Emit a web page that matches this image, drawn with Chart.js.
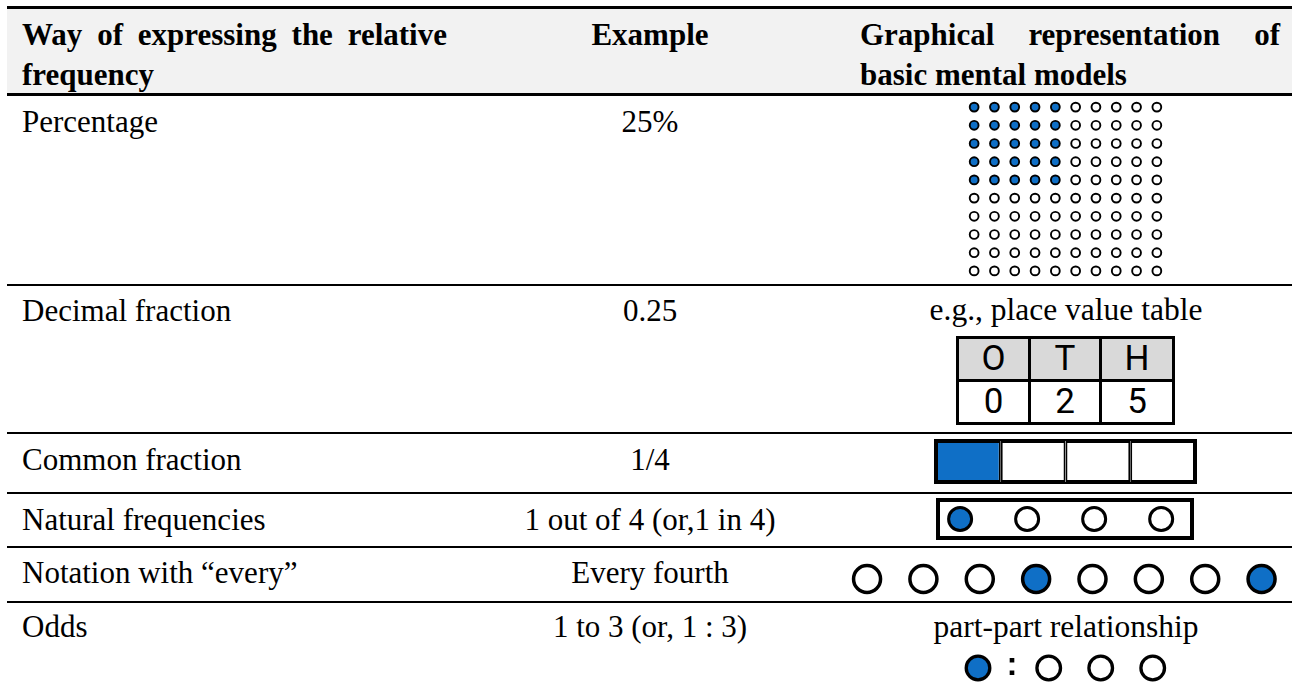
<!DOCTYPE html>
<html>
<head>
<meta charset="utf-8">
<script src="https://cdn.jsdelivr.net/npm/chart.js@4.4.0/dist/chart.umd.min.js"></script>
<style>
  html, body { margin:0; padding:0; background:#fff; width:1292px; height:686px; overflow:hidden; }
  body { position:relative; font-family:"Liberation Serif","Times New Roman",serif; color:#000; }
  .abs { position:absolute; }
  .line { position:absolute; left:7px; width:1285px; background:#000; }
  .hdr { position:absolute; font-weight:bold; font-size:31px; line-height:36px; white-space:nowrap; }
  .just { text-align:justify; text-align-last:justify; white-space:normal; }
  .txt { position:absolute; font-size:31px; line-height:36px; white-space:nowrap; }
  .cap { position:absolute; font-size:31.5px; line-height:36px; white-space:nowrap; left:840px; width:452px; text-align:center; }
  .c2 { left:460px; width:380px; text-align:center; }
  canvas { position:absolute; display:block; }
  table.pv { position:absolute; border-collapse:collapse; font-family:"Liberation Sans Narrow",Roboto,"Liberation Sans",sans-serif; font-size:35px; }
  table.pv td { border:3px solid #000; text-align:center; padding:0; height:40px; line-height:40px; }
</style>
</head>
<body>
<div class="abs" style="left:7px;top:9px;width:1285px;height:84px;background:#f2f2f2;"></div>
<div class="line" style="top:6px;height:3px;"></div>
<div class="line" style="top:93px;height:3px;"></div>
<div class="line" style="top:284px;height:2px;"></div>
<div class="line" style="top:432px;height:2px;"></div>
<div class="line" style="top:492px;height:2px;"></div>
<div class="line" style="top:546px;height:2px;"></div>
<div class="line" style="top:601px;height:2px;"></div>

<div id="h1a" class="hdr just" style="left:22px;top:17px;width:425px;"></div>
<div id="h1b" class="hdr" style="left:22px;top:57px;"></div>
<div id="h2" class="hdr" style="left:460px;top:17px;width:380px;text-align:center;"></div>
<div id="h3a" class="hdr just" style="left:860px;top:17px;width:420px;"></div>
<div id="h3b" class="hdr" style="left:860px;top:57px;"></div>

<div id="rows"></div>

<canvas id="cGrid" width="203" height="182" style="left:964px;top:98px;"></canvas>
<table class="pv" id="pv" style="left:956px;top:336px;"></table>
<canvas id="cFrac" width="259" height="41" style="left:936px;top:441px;outline:2px solid #000;"></canvas>
<div class="abs" style="left:936px;top:498px;width:250px;height:34px;border:4px solid #000;"></div>
<canvas id="cNat" width="250" height="34" style="left:940px;top:502px;"></canvas>
<canvas id="cEvery" width="452" height="40" style="left:840px;top:559px;"></canvas>
<canvas id="cOdds" width="250" height="38" style="left:940px;top:649px;"></canvas>
<div id="colon" class="abs" style="left:992px;top:646px;width:40px;text-align:center;font-family:'Liberation Sans',Arial,sans-serif;font-weight:bold;font-size:33px;line-height:36px;"></div>

<script>
// ---------- data ----------
const headerCol1 = ['Way of expressing the relative', 'frequency'];
const headerCol2 = 'Example';
const headerCol3 = ['Graphical representation of', 'basic mental models'];
const rowLabels = ['Percentage', 'Decimal fraction', 'Common fraction', 'Natural frequencies', 'Notation with \u201cevery\u201d', 'Odds'];
const examples = ['25%', '0.25', '1/4', '1 out of 4 (or,1 in 4)', 'Every fourth', '1 to 3 (or, 1 : 3)'];
const captions = ['', 'e.g., place value table', '', '', '', 'part-part relationship'];
const percentGrid = [
  '1111100000',
  '1111100000',
  '1111100000',
  '1111100000',
  '1111100000',
  '0000000000',
  '0000000000',
  '0000000000',
  '0000000000',
  '0000000000'
];
const placeHeads = ['O', 'T', 'H'];
const placeDigits = ['0', '2', '5'];
const fractionCells = [1, 0, 0, 0];
const naturalDots = [1, 0, 0, 0];
const everyDots = [0, 0, 0, 1, 0, 0, 0, 1];
const oddsPart = [1];
const oddsRest = [0, 0, 0];
const oddsSeparator = ':';

// ---------- layout (not data) ----------
const BLUE = '#0f6fc6';
const rowTops = [104, 293, 442, 502, 555, 609];
const capTops = [0, 292, 0, 0, 0, 609];

document.getElementById('h1a').textContent = headerCol1[0];
document.getElementById('h1b').textContent = headerCol1[1];
document.getElementById('h2').textContent = headerCol2;
document.getElementById('h3a').textContent = headerCol3[0];
document.getElementById('h3b').textContent = headerCol3[1];
const rowsEl = document.getElementById('rows');
rowLabels.forEach((lab, i) => {
  const a = document.createElement('div');
  a.className = 'txt'; a.style.left = '22px'; a.style.top = rowTops[i] + 'px'; a.textContent = lab;
  rowsEl.appendChild(a);
  const b = document.createElement('div');
  b.className = 'txt c2'; b.style.top = rowTops[i] + 'px'; b.textContent = examples[i];
  rowsEl.appendChild(b);
  if (captions[i]) {
    const c = document.createElement('div');
    c.className = 'cap'; c.style.top = capTops[i] + 'px'; c.textContent = captions[i];
    rowsEl.appendChild(c);
  }
});
const pv = document.getElementById('pv');
const colW = [69, 68, 70];
[placeHeads, placeDigits].forEach((row, r) => {
  const tr = document.createElement('tr');
  row.forEach((t, k) => {
    const td = document.createElement('td');
    td.textContent = t; td.style.width = colW[k] + 'px';
    td.style.background = r === 0 ? '#d9d9d9' : '#ffffff';
    tr.appendChild(td);
  });
  pv.appendChild(tr);
});
document.getElementById('colon').textContent = oddsSeparator;

function baseOpts(xmin, xmax, ymin, ymax) {
  return {
    responsive: false, maintainAspectRatio: false, animation: false, devicePixelRatio: 1,
    layout: { padding: 0, autoPadding: false },
    plugins: { legend: { display: false }, tooltip: { enabled: false } },
    scales: {
      x: { type: 'linear', display: false, min: xmin, max: xmax },
      y: { type: 'linear', display: false, min: ymin, max: ymax, reverse: true }
    }
  };
}
function dotChart(id, pts, fills, xr, yr, r, bw) {
  return new Chart(document.getElementById(id), {
    type: 'scatter',
    data: { datasets: [{ data: pts, pointRadius: r, pointHoverRadius: r, borderWidth: bw,
      pointBorderWidth: bw, borderColor: '#000',
      pointBackgroundColor: fills.map(f => f ? BLUE : '#ffffff'), pointBorderColor: '#000', clip: false }] },
    options: baseOpts(xr[0], xr[1], yr[0], yr[1])
  });
}

// 10x10 grid
const gPts = [], gFill = [];
percentGrid.forEach((row, r) => row.split('').forEach((c, k) => { gPts.push({ x: k, y: r }); gFill.push(c === '1'); }));
dotChart('cGrid', gPts, gFill, [-0.5, 9.5], [-0.5, 9.5], 4.4, 1.9);

// fraction bar
new Chart(document.getElementById('cFrac'), {
  type: 'bar',
  data: { labels: [examples[2]], datasets: fractionCells.map(f => ({
    data: [1], backgroundColor: f ? BLUE : '#ffffff', borderColor: '#000', borderWidth: 2,
    borderSkipped: false, barPercentage: 1, categoryPercentage: 1, inflateAmount: 0 })) },
  options: Object.assign(baseOpts(0, fractionCells.length, 0, 1), {
    indexAxis: 'y',
    scales: {
      x: { type: 'linear', display: false, min: 0, max: fractionCells.length, stacked: true },
      y: { type: 'category', display: false, stacked: true }
    }
  })
});

// natural frequencies
dotChart('cNat', naturalDots.map((f, i) => ({ x: i, y: 0 })), naturalDots, [-0.3, 3.43], [-0.5, 0.5], 11.5, 3);

// every fourth
dotChart('cEvery', everyDots.map((f, i) => ({ x: i, y: 0 })), everyDots, [-0.48, 7.54], [-0.5, 0.5], 13.5, 3.5);

// odds
const oddsPts = [], oddsFill = [];
oddsPart.forEach((f, i) => { oddsPts.push({ x: i, y: 0 }); oddsFill.push(f); });
oddsRest.forEach((f, i) => { oddsPts.push({ x: oddsPart.length + 0.36 + i, y: 0 }); oddsFill.push(f); });
dotChart('cOdds', oddsPts, oddsFill, [-0.731, 4.077], [-0.5, 0.5], 11.8, 3.3);
</script>
</body>
</html>
